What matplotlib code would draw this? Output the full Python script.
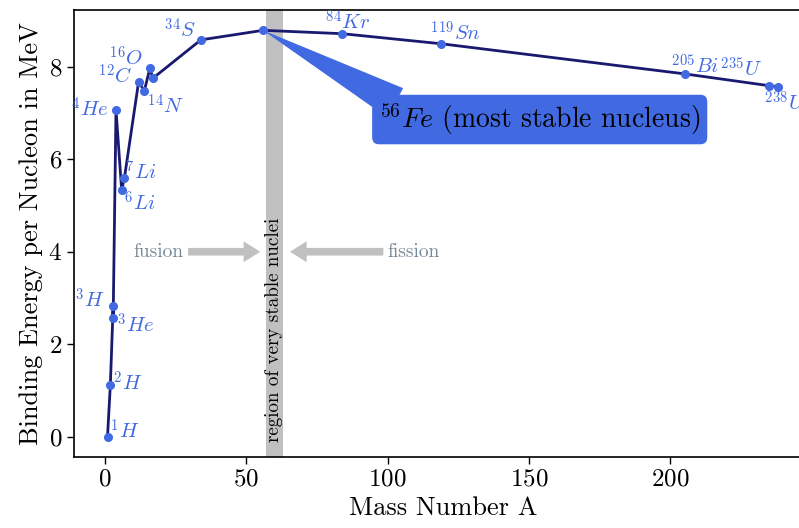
import matplotlib
matplotlib.use("Agg")
import matplotlib.pyplot as plt

plt.rcParams["font.family"] = "serif"
plt.rcParams["font.serif"] = ["cmr10"]
plt.rcParams["mathtext.fontset"] = "cm"
plt.rcParams["axes.formatter.use_mathtext"] = True
plt.rcParams["axes.unicode_minus"] = False

# Nuclides: mass number A and binding energy per nucleon (MeV)
labels = [r"$^{1}H$", r"$^{2}H$", r"$^{3}H$", r"$^{3}He$", r"$^{4}He$",
          r"$^{6}Li$", r"$^{7}Li$", r"$^{12}C$", r"$^{14}N$", r"$^{16}O$",
          "", r"$^{34}S$", r"$^{56}Fe$", r"$^{84}Kr$", r"$^{119}Sn$",
          r"$^{205}Bi$", r"$^{235}U$", r"$^{238}U$"]
mass_number = [1, 2, 3, 3, 4, 6, 7, 12, 14, 16, 17, 34, 56, 84, 119, 205, 235, 238]
binding_energy = [0.0, 1.112, 2.827, 2.573, 7.074, 5.332, 5.606, 7.680, 7.476,
                  7.976, 7.751, 8.583, 8.790, 8.717, 8.499, 7.848, 7.591, 7.570]

# label placement: (dx, dy) in pixels and horizontal alignment
label_offsets = {
    r"$^{1}H$": (2, 6, "left"), r"$^{2}H$": (3, 3, "left"),
    r"$^{3}H$": (-8, 6, "right"), r"$^{3}He$": (4, -7, "left"),
    r"$^{4}He$": (-7, 1, "right"), r"$^{6}Li$": (2, -13, "left"),
    r"$^{7}Li$": (1, 6, "left"), r"$^{12}C$": (-6, 6, "right"),
    r"$^{14}N$": (3, -15, "left"), r"$^{16}O$": (-7, 10, "right"),
    r"$^{34}S$": (-5, 10, "right"), r"$^{84}Kr$": (-17, 12, "left"),
    r"$^{119}Sn$": (-11, 11, "left"), r"$^{205}Bi$": (-14, 8, "left"),
    r"$^{235}U$": (-7, 17, "right"), r"$^{238}U$": (-14, -16, "left"),
}

fig = plt.figure(figsize=(7.99, 5.28), dpi=100)
ax = fig.add_axes([0.0926, 0.1345, 0.923, 0.8466])

ax.axvspan(57, 63, color="#c0c0c0", lw=0, zorder=0)
ax.plot(mass_number, binding_energy, color="midnightblue", lw=2, zorder=2)
ax.plot(mass_number, binding_energy, "o", color="royalblue", ms=5.5, zorder=3)

for lab, a, b in zip(labels, mass_number, binding_energy):
    if lab in label_offsets:
        dx, dy, ha = label_offsets[lab]
        ax.annotate(lab, xy=(a, b), xytext=(dx, dy), textcoords="offset pixels",
                    ha=ha, va="center", color="royalblue", fontsize=15)

# most stable nucleus call-out
ax.annotate(r"$^{56}Fe$ (most stable nucleus)", xy=(56, 8.79), xytext=(97, 6.86),
            fontsize=20, ha="left", va="center", color="black",
            bbox=dict(boxstyle="round,pad=0.25", fc="royalblue", ec="none"),
            arrowprops=dict(arrowstyle="wedge,tail_width=1.2", fc="royalblue",
                            ec="none", relpos=(0.05, 0.97), patchA=None,
                            shrinkA=0, shrinkB=0))

ax.text(60, -0.12, "region of very stable nuclei", rotation=90, ha="center",
        va="bottom", fontsize=13.7, color="black")

arrow_style = dict(arrowstyle="simple,head_length=1.2,head_width=1.5,tail_width=0.55",
                   fc="#c0c0c0", ec="none", shrinkA=0, shrinkB=0)
ax.annotate("", xy=(55, 4.0), xytext=(29.5, 4.0), arrowprops=arrow_style)
ax.annotate("", xy=(65.5, 4.0), xytext=(98.5, 4.0), arrowprops=arrow_style)
ax.text(28, 4.0, "fusion", ha="right", va="center", fontsize=14, color="lightslategray")
ax.text(100, 4.0, "fission", ha="left", va="center", fontsize=14, color="lightslategray")

ax.set_xlim(-10.85, 249.85)
ax.set_ylim(-0.44, 9.23)
ax.set_xticks([0, 50, 100, 150, 200])
ax.set_yticks([0, 2, 4, 6, 8])
ax.tick_params(labelsize=18, length=5, width=1)
ax.set_xlabel("Mass Number A", fontsize=19)
ax.set_ylabel("Binding Energy per Nucleon in MeV", fontsize=19)
for s in ax.spines.values():
    s.set_linewidth(1.2)

fig.savefig("out.png", dpi=100)
